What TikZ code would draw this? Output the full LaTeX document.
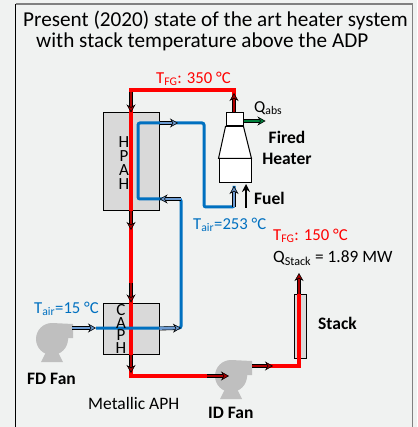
\documentclass[tikz,border=0pt]{standalone}
\usepackage{fontspec}
\setmainfont{Carlito}
\usepackage{tikz}
\usetikzlibrary{arrows.meta}

\definecolor{pagegray}{HTML}{F0F2F1}
\definecolor{boxgray}{HTML}{D9D9D9}
\definecolor{fangray}{HTML}{BFBFBF}
\definecolor{airblue}{HTML}{0070C0}
\definecolor{arrowblue}{HTML}{6C9BD2}
\definecolor{flamered}{HTML}{FF0000}
\definecolor{darkred}{HTML}{B00000}
\definecolor{absgreen}{HTML}{00803C}

\tikzset{
    apbox/.style={draw=black,line width=1pt,fill=boxgray,inner sep=0pt},
    heaterbox/.style={draw=black,line width=1pt,fill=white,inner sep=0pt},
    fluepipe/.style={draw=flamered,line width=3.4pt},
    airpipe/.style={draw=airblue,line width=3pt,rounded corners=2pt},
    flowtip/.style={draw=black,line width=.6pt,double=#1,double distance=2.6pt,-{Stealth[length=8pt,width=9pt,fill=#1]}},
    label/.style={inner sep=0pt,anchor=west,font=\fontsize{16.7}{17}\selectfont},
    boldlabel/.style={label,font=\fontsize{17.5}{17}\selectfont\bfseries},
    stackletters/.style={inner sep=0pt,align=center,font=\fontsize{17}{#1}\selectfont},
    fanshape/.pic={
        \fill[fangray] (0,0) circle (16);
        \fill[fangray] (0,-16) -- (21,-15) -- (21,-1) -- (16,-1) -- (16,1) -- cycle;
        \fill[fangray] (-6,13) -- (6,13) -- (11,23) -- (-11,23) -- cycle;
    }
}

\begin{document}
\begin{tikzpicture}[x=1pt,y=-1pt]
    \useasboundingbox (0,0) rectangle (417,427);
    \fill[pagegray] (0,0) rectangle (417,427);

    % Frame
    \draw[gray,line width=1.2pt] (15.5,4) -- (412.5,4) -- (412.5,427);
    \draw[black,line width=1.2pt] (15.5,4) -- (15.5,427);

    % Title
    \node[inner sep=0pt,anchor=base west,font=\fontsize{21.2}{21}\selectfont] (titleA) at (23,27) {Present (2020) state of the art heater system};
    \node[inner sep=0pt,anchor=base west,font=\fontsize{21.2}{21}\selectfont] (titleB) at (36,48) {with stack temperature above the ADP};

    % Air preheaters and heater
    \node[apbox,minimum width=56pt,minimum height=97pt] (hpah) at (131,161.5) {};
    \node[apbox,minimum width=56pt,minimum height=51pt] (caph) at (131,328.5) {};
    \node[apbox,minimum width=12pt,minimum height=64pt] (stack) at (300,326) {};
    \node[heaterbox,minimum width=17pt,minimum height=13pt] (hood) at (234.5,119.5) {};
    \node[heaterbox,minimum width=32pt,minimum height=24pt] (firebox) at (235,171) {};
    \draw[heaterbox] (hood.south west) -- (firebox.north west) -- (firebox.north east) -- (hood.south east) -- cycle;

    % Fans
    \pic at (52,339) {fanshape};
    \pic at (231,376) {fanshape};
    \coordinate (fdout) at (72,328);
    \coordinate (idin) at (207,376);
    \coordinate (idtip) at (229,376);
    \coordinate (idout) at (252,366);
    \coordinate (idtail) at (273,366);

    % Flue gas side
    \coordinate (hoodtop) at (234,90);
    \coordinate (hoodtip) at (234,93);
    \coordinate (hpahtop) at (131,90);
    \coordinate (caphbot) at (131,376);
    \coordinate (stackfoot) at (299,366);
    \coordinate (stacktop) at (299,273);
    \coordinate (fgdown) at (131,92);
    \coordinate (hpahmid) at (131,230);
    \coordinate (caphup) at (131,283);
    \coordinate (caphdown) at (131,373);
    \draw[fluepipe] (hood.north -| hoodtop) -- (hoodtop) -- (hpahtop) -- (hpah.north) -- (hpah.south) -- (caph.north) -- (caph.south) -- (caphbot) -- (idin);
    \draw[fluepipe] (idout) -- (stackfoot) -- (stack.north -| stackfoot);

    % Air side
    \coordinate (capleft) at (96,328);
    \coordinate (capright) at (181,328);
    \coordinate (hpahin) at (181,199);
    \coordinate (loopbot) at (138,199);
    \coordinate (looptop) at (138,123);
    \coordinate (hpahout) at (204,123);
    \coordinate (hpahtail) at (178,123);
    \coordinate (ductbot) at (204,207);
    \coordinate (burner) at (234,207);
    \coordinate (burnertop) at (234,186);
    \draw[airpipe] (capleft) -- (capright) -- (hpahin) -- (loopbot) -- (looptop) -- (hpahout) -- (ductbot) -- (burner) -- (burnertop);

    % Flow arrows
    \draw[flowtip=darkred] (fgdown) -- (hpah.north);
    \draw[flowtip=darkred] (hood.north -| hoodtop) -- (hoodtip);
    \draw[flowtip=darkred] (hpah.south) -- (hpahmid);
    \draw[flowtip=darkred] (caphup) -- (caph.north);
    \draw[flowtip=darkred] (caph.south) -- (caphdown);
    \draw[flowtip=darkred] (idin) -- (idtip);
    \draw[flowtip=darkred] (idout) -- (idtail);
    \draw[flowtip=darkred] (stack.north -| stackfoot) -- (stacktop);
    \draw[flowtip=arrowblue] (fdout) -- (capleft);
    \draw[flowtip=arrowblue] (caph.east) -- (capright);
    \draw[flowtip=arrowblue] (hpah.east |- looptop) -- (hpahtail);
    \draw[flowtip=arrowblue] (hpahin) -- (hpah.east |- hpahin);
    \draw[flowtip=arrowblue] (burner) -- (burnertop);
    \draw[flowtip=absgreen] (hood.east) ++(0,1.5) -- ++(22,0);
    \draw[-{Stealth[length=8pt,width=8pt]},black,line width=2pt] (246,208) -- (246,184);

    % Letters in the preheaters
    \node[stackletters=14] (hpahtext) at (124,163) {H\\P\\A\\H};
    \node[stackletters=12.7] (caphtext) at (121,329) {C\\A\\P\\H};

    % Labels
    \node[label,text=flamered] (fgtop) at (156,79) {T\textsubscript{FG}: 350 °C};
    \node[label] (qabs) at (254,108) {Q\textsubscript{abs}};
    \node[boldlabel,align=center,anchor=center,font=\fontsize{17.5}{21}\selectfont\bfseries] (firedheater) at (287,147.5) {Fired\\Heater};
    \node[boldlabel] (fuel) at (254,198) {Fuel};
    \node[label,text=airblue] (tairhot) at (193,225) {T\textsubscript{air}=253 °C};
    \node[label,text=flamered] (fgstack) at (273,236) {T\textsubscript{FG}: 150 °C};
    \node[label,font=\fontsize{17.3}{17}\selectfont] (qstack) at (273,258) {Q\textsubscript{Stack} = 1.89 MW};
    \node[boldlabel] (stacktext) at (318,323) {Stack};
    \node[label,text=airblue] (taircold) at (34,309) {T\textsubscript{air}=15 °C};
    \node[boldlabel] (fdfan) at (27,379) {FD Fan};
    \node[label,font=\fontsize{17.5}{17}\selectfont] (metallic) at (88,403) {Metallic APH};
    \node[boldlabel] (idfan) at (208,413) {ID Fan};
\end{tikzpicture}
\end{document}
